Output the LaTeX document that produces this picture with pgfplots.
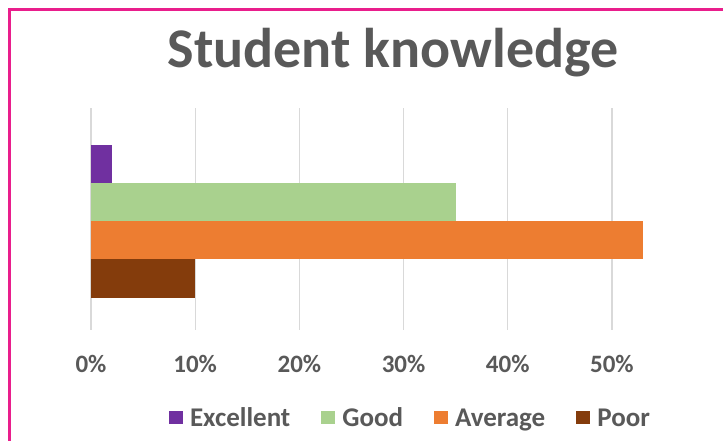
\documentclass[border=0pt]{standalone}
\usepackage{fontspec}
\setmainfont{Carlito}
\usepackage{pgfplots}
\pgfplotsset{compat=1.18}
\definecolor{Frame}{HTML}{E91E8C}
\definecolor{Ink}{HTML}{595959}
\definecolor{Rule}{HTML}{D9D9D9}
\definecolor{cExc}{HTML}{7030A0}
\definecolor{cGood}{HTML}{A9D18E}
\definecolor{cAvg}{HTML}{ED7D31}
\definecolor{cPoor}{HTML}{843C0C}

\begin{document}
\begin{tikzpicture}[x=1pt,y=1pt]
  \path[use as bounding box,fill=white] (0,0) rectangle (723,-441);
  % frame
  \draw[Frame,line width=3pt] (9.5,-441) -- (9.5,-9.5) -- (723,-9.5);
  % title
  \node[anchor=base,text=Ink,font=\fontsize{56}{60}\selectfont\bfseries,inner sep=0pt]
    at (393,-68) {Student knowledge};
  \begin{axis}[
    at={(91pt,-108pt)},anchor=north west,
    scale only axis,width=573pt,height=222pt,
    xmin=0,xmax=55,ymin=-1.349,ymax=4.467,
    enlargelimits=false,
    axis line style={draw=none},tick style={draw=none},
    ytick=\empty,
    xtick={0,10,20,30,40,50},
    xticklabels={0\%,10\%,20\%,30\%,40\%,50\%},
    xticklabel style={inner sep=0pt,yshift=-25pt,text=Ink,
      font=\fontsize{25}{28}\selectfont\bfseries},
    xmajorgrids=true,grid style={Rule,line width=1.3pt},
    legend columns=-1,
    legend image code/.code={\fill[#1] (0pt,-6.5pt) rectangle (13.5pt,6.5pt); \path (21pt,0pt);},
    legend style={draw=none,fill=none,at={(0.5558,-0.3964)},anchor=center,
      font=\fontsize{27}{30}\selectfont\bfseries,text=Ink,
      nodes={inner xsep=0pt},
      /tikz/every even column/.append style={column sep=31pt}},
  ]
    \addplot[xbar,bar width=1,bar shift=0pt,fill=cExc,draw=none] coordinates {(2,3)};
    \addplot[xbar,bar width=1,bar shift=0pt,fill=cGood,draw=none] coordinates {(35,2)};
    \addplot[xbar,bar width=1,bar shift=0pt,fill=cAvg,draw=none] coordinates {(53,1)};
    \addplot[xbar,bar width=1,bar shift=0pt,fill=cPoor,draw=none] coordinates {(10,0)};
    \legend{Excellent,Good,Average,Poor}
  \end{axis}
\end{tikzpicture}
\end{document}
